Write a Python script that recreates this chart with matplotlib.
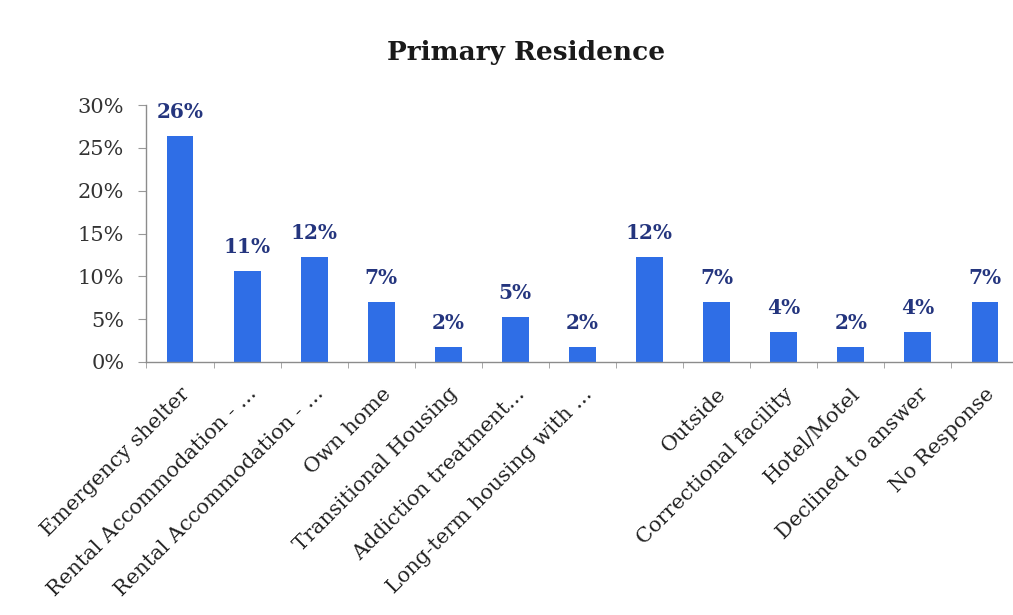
import matplotlib
matplotlib.use("Agg")
import matplotlib.pyplot as plt
from matplotlib.ticker import FixedLocator, PercentFormatter
import numpy as np

categories = [
    "Emergency shelter",
    "Rental Accommodation - ...",
    "Rental Accommodation - ...",
    "Own home",
    "Transitional Housing",
    "Addiction treatment...",
    "Long-term housing with ...",
    "",
    "Outside",
    "Correctional facility",
    "Hotel/Motel",
    "Declined to answer",
    "No Response",
]
shares = [26.4, 10.6, 12.3, 7.0, 1.8, 5.3, 1.8, 12.3, 7.0, 3.5, 1.8, 3.5, 7.0]

BAR_COLOR = "#2f6ee6"
LABEL_COLOR = "#24357e"
FONT = ["DejaVu Serif"]

plt.rcParams["font.family"] = FONT

fig = plt.figure(figsize=(10.13, 6.15), dpi=100)
ax = fig.add_axes([0.1446, 0.4114, 0.8608, 0.4177])

x = np.arange(len(categories))
bars = ax.bar(x, shares, width=0.4, color=BAR_COLOR, zorder=2)

for rect, v in zip(bars, shares):
    ax.annotate(f"{v:.0f}%", (rect.get_x() + rect.get_width() / 2, v),
                xytext=(0, 10), textcoords="offset points",
                ha="center", va="bottom", fontsize=14.5, fontweight="bold",
                color=LABEL_COLOR, annotation_clip=False)

ax.set_xlim(-0.5, len(categories) - 0.5)
ax.set_ylim(0, 30)
ax.yaxis.set_major_locator(FixedLocator(np.arange(0, 31, 5)))
ax.yaxis.set_major_formatter(PercentFormatter(decimals=0))

ax.set_xticks(x)
ax.set_xticklabels(categories, rotation=45, ha="right", rotation_mode="anchor",
                   fontsize=15, color="#222222")
ax.set_xticks(np.arange(-0.5, len(categories), 1), minor=True)
ax.tick_params(axis="x", which="major", length=0, pad=16)
ax.tick_params(axis="x", which="minor", length=4, color="#999999")
ax.tick_params(axis="y", length=6, color="#999999", labelsize=15,
               labelcolor="#333333", pad=10)

for side in ("top", "right"):
    ax.spines[side].set_visible(False)
for side in ("left", "bottom"):
    ax.spines[side].set_color("#8c8c8c")
    ax.spines[side].set_linewidth(1.0)

fig.text(0.519, 0.914, "Primary Residence", ha="center", va="center",
         fontsize=19, fontweight="bold", color="#1a1a1a")

fig.savefig("out.png", dpi=100, facecolor="white")
